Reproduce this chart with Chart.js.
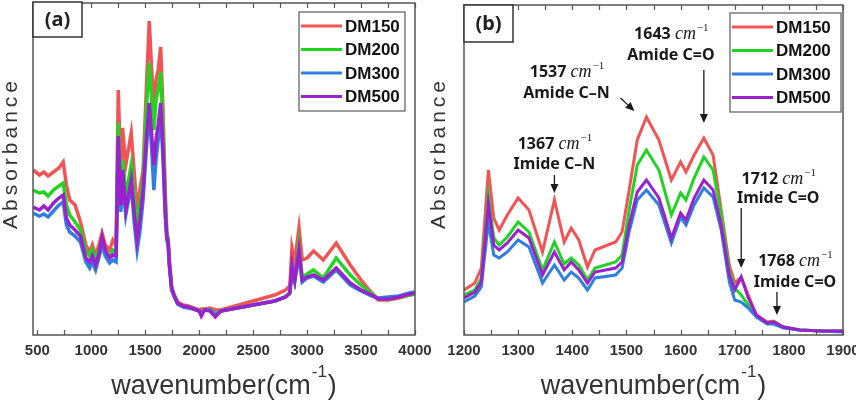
<!DOCTYPE html>
<html>
<head>
<meta charset="utf-8">
<script src="https://cdn.jsdelivr.net/npm/chart.js@4.4.1/dist/chart.umd.min.js"></script>
<style>
  html, body { margin: 0; padding: 0; background: #fff; overflow: hidden; }
  #wrap { position: relative; width: 856px; height: 402px; overflow: hidden; }
  canvas { position: absolute; top: 0; }
  #chartA { left: 0; }
  #chartB { left: 428px; }
</style>
</head>
<body>
<div id="wrap">
  <canvas id="chartA" width="440" height="402"></canvas>
  <canvas id="chartB" width="445" height="402"></canvas>
</div>
<script>
// series names + colours
const series = ['DM150', 'DM200', 'DM300', 'DM500'];
const colors = ['#f05454', '#22d422', '#2f7fe0', '#9a22cc'];

// (a) full spectrum, wavenumber in cm-1, absorbance in arbitrary units
const waveA = [460, 520, 560, 600, 650, 700, 740, 770, 800, 850, 900, 950, 985, 1010, 1040, 1070, 1100, 1130, 1170, 1200, 1230,
  1250, 1275, 1290, 1320, 1370, 1400, 1425, 1450, 1480, 1510, 1537, 1560, 1580, 1600, 1620, 1643, 1665, 1685, 1700, 1712,
  1725, 1745, 1770, 1800, 1850, 1900, 1950, 2000, 2020, 2050, 2100, 2150, 2200, 2300, 2400, 2500, 2600, 2700, 2800, 2840,
  2860, 2885, 2925, 2955, 3000, 3060, 3150, 3270, 3400, 3500, 3600, 3660, 3750, 3850, 3950, 4000];
const dm150A = [165, 160, 163, 159, 163, 167, 173, 150, 135, 130, 113, 90, 83, 90, 79, 90, 102, 90, 85, 95, 90,
  245, 160, 207, 170, 202, 160, 122, 145, 165, 245, 314, 265, 227, 255, 265, 288, 225, 145, 103, 97,
  73, 48, 40, 33, 30, 29, 27, 25, 26, 26, 27, 25, 25, 28, 31, 34, 37, 40, 45, 49,
  87, 73, 107, 75, 77, 84, 75, 92, 70, 55, 42, 35, 35, 37, 40, 41];
const dm200A = [145, 142, 143, 139, 145, 149, 152, 130, 120, 113, 105, 85, 79, 85, 75, 85, 95, 85, 77, 85, 83,
  212, 145, 175, 140, 170, 135, 110, 130, 155, 225, 272, 235, 205, 235, 245, 263, 205, 135, 100, 95,
  70, 47, 39, 32, 29, 28, 26, 24, 21, 25, 25, 21, 24, 26, 28, 30, 32, 34, 38, 42,
  67, 55, 90, 57, 61, 65, 57, 77, 60, 50, 41, 36, 36, 38, 40, 41];
const dm300A = [122, 119, 121, 118, 124, 130, 133, 110, 103, 99, 93, 73, 67, 73, 65, 77, 90, 79, 72, 75, 73,
  195, 123, 160, 120, 150, 110, 85, 103, 135, 185, 227, 185, 145, 175, 195, 223, 175, 120, 95, 90,
  67, 45, 38, 31, 28, 27, 26, 24, 22, 25, 25, 20, 24, 26, 28, 30, 32, 34, 38, 42,
  63, 53, 80, 53, 57, 59, 53, 65, 50, 44, 39, 37, 38, 39, 42, 43];
const dm500A = [128, 125, 129, 125, 132, 137, 140, 117, 110, 105, 99, 77, 73, 79, 70, 81, 98, 85, 77, 80, 79,
  199, 130, 165, 125, 155, 120, 95, 115, 145, 195, 232, 200, 170, 195, 210, 232, 185, 125, 98, 93,
  70, 46, 39, 32, 29, 28, 26, 24, 19, 25, 24, 18, 24, 26, 28, 30, 32, 34, 38, 42,
  70, 55, 85, 55, 58, 60, 55, 67, 52, 45, 40, 36, 36, 38, 41, 42];

// (b) zoom on 1200-1900 cm-1
const waveB = [1200, 1220, 1232, 1245, 1255, 1265, 1280, 1300, 1320, 1345, 1367, 1385, 1398, 1412, 1428, 1442, 1480, 1492,
  1505, 1520, 1537, 1560, 1583, 1600, 1610, 1625, 1643, 1660, 1675, 1690, 1700, 1712, 1725, 1740, 1760, 1772, 1790, 1820, 1860, 1900];
const dm150B = [45, 52, 67, 165, 117, 105, 120, 137, 125, 83, 135, 93, 107, 95, 68, 85, 93, 103,
  145, 195, 218, 195, 155, 173, 163, 180, 197, 180, 125, 70, 52, 58, 40, 20, 13, 14, 8, 5, 4, 4];
const dm200B = [40, 45, 57, 140, 97, 90, 98, 113, 103, 65, 93, 71, 77, 70, 55, 67, 73, 80,
  125, 170, 185, 165, 120, 142, 135, 157, 178, 165, 120, 65, 47, 40, 30, 19, 12, 13, 8, 5, 4, 4];
const dm300B = [33, 39, 48, 113, 80, 77, 83, 95, 88, 52, 70, 55, 63, 57, 45, 57, 60, 67,
  103, 135, 145, 130, 92, 118, 110, 130, 147, 138, 105, 53, 35, 33, 27, 18, 11, 11, 7, 5, 4, 3];
const dm500B = [37, 43, 53, 132, 90, 85, 92, 105, 97, 60, 83, 65, 73, 65, 52, 63, 67, 73,
  110, 143, 155, 137, 97, 122, 115, 137, 155, 145, 110, 60, 45, 58, 37, 20, 12, 13, 8, 5, 4, 4];

// tick labels
const ticksA = [500, 1000, 1500, 2000, 2500, 3000, 3500, 4000];
const minorA = [750, 1250, 1750, 2250, 2750, 3250, 3750];
const ticksB = [1200, 1300, 1400, 1500, 1600, 1700, 1800, 1900];
const minorB = [1250, 1350, 1450, 1550, 1650, 1750, 1850];

// peak notes in (b)
const peakNums = ['1367', '1537', '1643', '1712', '1768'];
const peakNames = ['Imide C\u2013N', 'Amide C\u2013N', 'Amide C=O', 'Imide C=O', 'Imide C=O'];
const peakWave = [1367, 1537, 1643, 1712, 1778];

const FONT = '"Liberation Sans", Arial, sans-serif';
const TXT = '#333';

function arrow(ctx, x1, y1, x2, y2) {
  const ang = Math.atan2(y2 - y1, x2 - x1);
  const hl = 9, hw = 4;
  ctx.beginPath();
  ctx.moveTo(x1, y1);
  ctx.lineTo(x2 - Math.cos(ang) * hl, y2 - Math.sin(ang) * hl);
  ctx.stroke();
  ctx.beginPath();
  ctx.moveTo(x2, y2);
  ctx.lineTo(x2 - Math.cos(ang) * hl - Math.sin(ang) * hw, y2 - Math.sin(ang) * hl + Math.cos(ang) * hw);
  ctx.lineTo(x2 - Math.cos(ang) * hl + Math.sin(ang) * hw, y2 - Math.sin(ang) * hl - Math.cos(ang) * hw);
  ctx.closePath();
  ctx.fill();
}

// "1643 cm^-1" with italic cm and superscript
function peakText(ctx, cx, y, num) {
  const a = num + ' ';
  ctx.font = 'bold 16px "Noto Sans", sans-serif';
  const wa = ctx.measureText(a).width;
  ctx.font = 'italic 18px "Liberation Serif", serif';
  const wb = ctx.measureText('cm').width;
  ctx.font = '11px "Liberation Serif", serif';
  const wc = ctx.measureText('\u22121').width;
  let x = cx - (wa + wb + wc) / 2;
  ctx.textAlign = 'left';
  ctx.font = 'bold 16px "Noto Sans", sans-serif';
  ctx.fillText(a, x, y);
  x += wa;
  ctx.font = 'italic 18px "Liberation Serif", serif';
  ctx.fillText('cm', x, y);
  x += wb + 1;
  ctx.font = '11px "Liberation Serif", serif';
  ctx.fillText('\u22121', x, y - 8);
}

const decor = {
  id: 'decor',
  afterDraw(chart, args, o) {
    const ctx = chart.ctx, a = chart.chartArea, sx = chart.scales.x;
    ctx.save();

    // frame and inward ticks
    ctx.strokeStyle = '#555';
    ctx.lineWidth = 1.5;
    ctx.strokeRect(a.left, a.top, a.right - a.left, a.bottom - a.top);
    ctx.beginPath();
    o.ticks.concat(o.minor).forEach(v => {
      const px = Math.round(sx.getPixelForValue(v)) + 0.5;
      ctx.moveTo(px, a.bottom); ctx.lineTo(px, a.bottom - 5);
      ctx.moveTo(px, a.top); ctx.lineTo(px, a.top + 5);
    });
    ctx.lineWidth = 1.2;
    ctx.stroke();

    // panel tag
    const t = o.tag;
    ctx.fillStyle = '#fff';
    ctx.fillRect(t.x, t.y, t.w, t.h);
    ctx.strokeStyle = '#333';
    ctx.lineWidth = 1.5;
    ctx.strokeRect(t.x, t.y, t.w, t.h);
    ctx.fillStyle = '#222';
    ctx.font = 'bold 20px "Noto Sans", sans-serif';
    ctx.textAlign = 'center';
    ctx.textBaseline = 'middle';
    ctx.fillText(t.text, t.x + t.w / 2, t.y + t.h / 2 + 1);

    // legend box
    const L = o.legend;
    ctx.fillStyle = '#fff';
    ctx.fillRect(L.x, L.y, L.w, L.h);
    ctx.strokeStyle = '#666';
    ctx.lineWidth = 1.3;
    ctx.strokeRect(L.x, L.y, L.w, L.h);
    ctx.font = 'bold 17px ' + FONT;
    ctx.textAlign = 'left';
    chart.data.datasets.forEach((ds, i) => {
      const yy = L.y + 14 + i * 23.5;
      ctx.strokeStyle = ds.borderColor;
      ctx.lineWidth = 3;
      ctx.beginPath();
      ctx.moveTo(L.x + 2, yy); ctx.lineTo(L.x + 43, yy);
      ctx.stroke();
      ctx.fillStyle = '#111';
      ctx.fillText(ds.label, L.x + 46, yy + 1);
    });

    // y title, letter spaced
    ctx.save();
    ctx.translate(o.yTitle.x, o.yTitle.y);
    ctx.rotate(-Math.PI / 2);
    ctx.letterSpacing = '4px';
    ctx.font = '21px ' + FONT;
    ctx.fillStyle = TXT;
    ctx.textAlign = 'center';
    ctx.textBaseline = 'middle';
    ctx.fillText('Absorbance', 2, 0);
    ctx.restore();

    // x title with superscript
    ctx.fillStyle = TXT;
    ctx.textBaseline = 'alphabetic';
    ctx.textAlign = 'left';
    ctx.font = '27px ' + FONT;
    const main = 'wavenumber(cm', close = ')';
    const wm = ctx.measureText(main).width, wcl = ctx.measureText(close).width;
    ctx.font = '17px ' + FONT;
    const sup = '-1', ws = ctx.measureText(sup).width;
    let x0 = (a.left + a.right) / 2 - (wm + ws + wcl + 2) / 2;
    ctx.font = '27px ' + FONT;
    ctx.fillText(main, x0, 394);
    ctx.font = '17px ' + FONT;
    ctx.fillText(sup, x0 + wm + 1, 377);
    ctx.font = '27px ' + FONT;
    ctx.fillText(close, x0 + wm + ws + 2, 394);

    // peak annotations
    if (o.notes) {
      ctx.fillStyle = '#1a1a1a';
      ctx.strokeStyle = '#1a1a1a';
      ctx.lineWidth = 1.3;
      o.notes.forEach((n, i) => {
        const px = sx.getPixelForValue(peakWave[i]);
        peakText(ctx, px + n.dx, n.y1, peakNums[i]);
        ctx.font = 'bold 16px "Noto Sans", sans-serif';
        ctx.textAlign = 'center';
        ctx.fillText(peakNames[i], px + n.dx, n.y2);
        arrow(ctx, px + n.a[0], n.a[1], px + n.a[2], n.a[3]);
      });
    }
    ctx.restore();
  }
};

function makeChart(id, wave, sets, xr, ymax, pad, lw, deco) {
  const datasets = sets.map((vals, i) => ({
    label: series[i],
    data: wave.map((w, j) => ({ x: w, y: vals[j] })),
    borderColor: colors[i],
    backgroundColor: colors[i],
    borderWidth: lw,
    pointRadius: 0,
    tension: 0,
    order: 3 - i
  }));
  return new Chart(document.getElementById(id), {
    type: 'line',
    data: { datasets: datasets },
    plugins: [decor],
    options: {
      responsive: false,
      animation: false,
      layout: { padding: pad },
      plugins: { legend: { display: false }, tooltip: { enabled: false }, decor: deco },
      scales: {
        x: {
          type: 'linear', min: xr[0], max: xr[1],
          grid: { display: false, drawTicks: false },
          border: { display: false },
          afterBuildTicks: s => { s.ticks = deco.ticks.map(v => ({ value: v })); },
          afterFit: s => { s.height = 67; },
          ticks: {
            padding: 7, maxRotation: 0, autoSkip: false,
            color: TXT, font: { family: FONT, weight: 'bold', size: 15 },
            callback: v => String(v)
          }
        },
        y: { display: false, min: 0, max: ymax }
      }
    }
  });
}

makeChart('chartA', waveA, [dm150A, dm200A, dm300A, dm500A], [460, 4000], 332,
  { left: 33, right: 25, top: 3, bottom: 0 }, 3.5,
  {
    ticks: ticksA, minor: minorA,
    tag: { x: 33, y: 2, w: 49, h: 35, text: '(a)' },
    legend: { x: 299, y: 12, w: 106, h: 99 },
    yTitle: { x: 11, y: 155 }
  });

makeChart('chartB', waveB, [dm150B, dm200B, dm300B, dm500B], [1200, 1900], 330,
  { left: 36, right: 30, top: 5, bottom: 0 }, 3,
  {
    ticks: ticksB, minor: minorB,
    tag: { x: 36, y: 5, w: 49, h: 37, text: '(b)' },
    legend: { x: 302, y: 13, w: 111, h: 99 },
    yTitle: { x: 11, y: 155 },
    notes: [
      { dx: 0, y1: 149, y2: 169, a: [0, 175, 0, 193] },
      { dx: -80, y1: 77, y2: 98, a: [-26, 98, -12, 111] },
      { dx: -33, y1: 39, y2: 60, a: [0, 70, 0, 123] },
      { dx: 37, y1: 184, y2: 203, a: [0, 208, 0, 268] },
      { dx: 18, y1: 266, y2: 287, a: [0, 292, 0, 315] }
    ]
  });
</script>
</body>
</html>
